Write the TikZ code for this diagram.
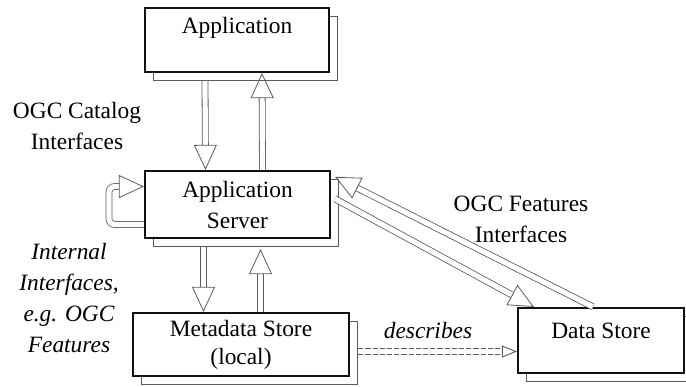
\documentclass[tikz,border=0pt]{standalone}
\usepackage{fontspec}
\setmainfont{Liberation Serif}
\usetikzlibrary{arrows.meta, shadows}
\definecolor{Ink}{HTML}{111111}
\definecolor{Wire}{HTML}{5A5A5A}
\tikzset{
    boxnode/.style={rectangle, draw=Ink, line width=1.1pt, fill=white, align=center, font=\fontsize{11.7}{15.5}\selectfont,
        copy shadow={shadow xshift=4pt, shadow yshift=-4pt, draw=Wire, line width=0.4pt, fill=white}},
    annot/.style={align=center, font=\fontsize{11.7}{15.5}\selectfont},
    iface/.style={draw=Wire, line width=0.4pt, double=white, double distance=2.6pt, -{Triangle[open, length=12.5pt, width=11.5pt]}},
    reltn/.style={draw=Wire, line width=0.45pt, double=white, double distance=2.4pt, dash pattern=on 2.6pt off 1pt, -{Triangle[open, length=7.5pt, width=6pt]}},
}

\begin{document}
\begin{tikzpicture}[x=0.5pt, y=-0.5pt]
    \useasboundingbox (0,0) rectangle (686,386);

    % Komponenten
    \node[boxnode, minimum width=92pt, minimum height=32pt, text height=8pt, text depth=15pt] (app) at (237,40) {Application};
    \node[boxnode, minimum width=92.5pt, minimum height=33.5pt] (srv) at (237.5,204.5) {Application\\Server};
    \node[boxnode, minimum width=108pt, minimum height=31.5pt, font=\fontsize{11.7}{14}\selectfont] (meta) at (241,344.5) {Metadata Store\\(local)};
    \node[boxnode, minimum width=83pt, minimum height=32.5pt, text height=8pt, text depth=10.5pt] (dstore) at (601,340.5) {Data Store};

    % Beschriftungen
    \node[annot] (catlbl) at (77,126) {OGC Catalog\\Interfaces};
    \node[annot] (featlbl) at (521,219) {OGC Features\\Interfaces};
    \node[annot, font=\fontsize{11.7}{15.5}\selectfont\itshape] (intlbl) at (69,298) {Internal\\Interfaces,\\e.g. OGC\\Features};
    \node[annot, font=\fontsize{11.7}{15.5}\selectfont\itshape] (desclbl) at (428,330) {describes};

    % Application <-> Application Server
    \draw[iface] ([xshift=-16pt, yshift=-4pt]app.south) -- ([xshift=-16pt]srv.north);
    \draw[iface] ([xshift=12.5pt]srv.north) -- ([xshift=12.5pt]app.south);

    % interne Schleife
    \coordinate (loopfrom) at ([yshift=-10pt]srv.west);
    \coordinate (loopto) at ([yshift=9pt]srv.west);
    \draw[iface, rounded corners=3pt] (loopfrom) -- ++(-17.5pt,0) -- ++(0,19pt) -- (loopto);

    % Application Server <-> Metadata Store
    \draw[iface] ([xshift=-17pt, yshift=-4pt]srv.south) -- ([xshift=-17pt]srv.south |- meta.north);
    \draw[iface] ([xshift=11.5pt]srv.south |- meta.north) -- ([xshift=11.5pt, yshift=-5pt]srv.south);

    % Application Server <-> Data Store
    \draw[iface] ([xshift=-4pt]dstore.north) -- ([xshift=2pt, yshift=-3.5pt]srv.north east);
    \draw[iface] ([xshift=2pt, yshift=-14.5pt]srv.north east) -- ([xshift=8.5pt]dstore.north west);

    % Metadata Store -> Data Store
    \coordinate (descfrom) at ([xshift=4pt, yshift=-3.5pt]meta.east);
    \draw[reltn] (descfrom) -- (descfrom -| dstore.west);
\end{tikzpicture}
\end{document}
